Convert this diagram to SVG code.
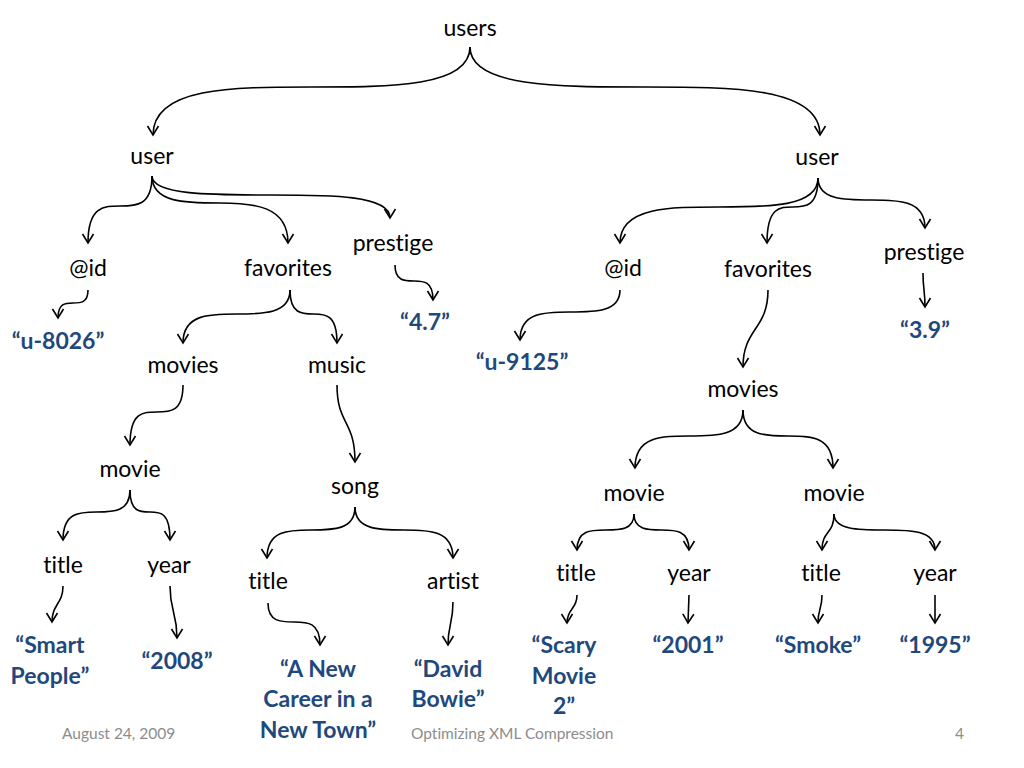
<svg xmlns="http://www.w3.org/2000/svg" width="1024" height="768" viewBox="0 0 1024 768">
<style>
text{font-variant-ligatures:none;font-feature-settings:"liga" 0}
.n{font-family:Lato,"Open Sans","Liberation Sans",sans-serif;font-size:23px;fill:#000;text-anchor:middle}
.v{font-family:Lato,"Open Sans","Liberation Sans",sans-serif;font-size:23px;font-weight:bold;fill:#1f497d;text-anchor:middle}
.f{font-family:Lato,"Open Sans","Liberation Sans",sans-serif;font-size:15.5px;fill:#8c8c8c}
.e path{fill:none;stroke:#000;stroke-width:1.6;marker-end:url(#a)}
</style>
<defs>
<marker id="a" markerUnits="userSpaceOnUse" viewBox="-10 -10 20 20" markerWidth="20" markerHeight="20" refX="0" refY="0" orient="auto" overflow="visible">
<path d="M-9,-5.5 L0,0 L-9,5.5" fill="none" stroke="#000" stroke-width="1.6"/>
</marker>
</defs>
<rect width="1024" height="768" fill="#fff"/>
<g class="e" id="connectors">
<path d="M470,47 C470,87 391,87 311.5,87 C232,87 153,87 153,135"/>
<path d="M470,47 C470,87 557.5,87 645,87 C732.5,87 820,87 820,135"/>
<path d="M152,176 C152,206 136,206 120,206 C104,206 88,206 88,243"/>
<path d="M152,176 C152,203 186,203 220,203 C254,203 288,206 288,243"/>
<path d="M152,176 C152,195 211.5,195 271,195 C330.5,195 390,195 390,218"/>
<path d="M88,290 C88,303 80.5,303 73,303 C65.5,303 58,303 58,318"/>
<path d="M395,265 C395,281 404.5,281 414,281 C423.5,281 433,281 433,300"/>
<path d="M290,290 C290,314 263,314 236.5,314 C210,314 183,314 183,343"/>
<path d="M290,290 C290,314 302,314 313.5,314 C325,314 337,314 337,343"/>
<path d="M183,385 C183,412 170,412 156.5,412 C143,412 130,412 130,445"/>
<path d="M337,385 C337,425 355,420 355,462"/>
<path d="M130,490 C130,512 113,512 96.5,512 C80,512 63,512 63,540"/>
<path d="M130,490 C130,512 140,512 150,512 C160,512 170,512 170,540"/>
<path d="M63,586 C63,604 52,604 52,622"/>
<path d="M170,586 C170,612 177,612 177,638"/>
<path d="M355,507 C355,530 333,530 311,530 C289,530 267,530 267,558"/>
<path d="M355,507 C355,530 379.5,530 404,530 C428.5,530 453,530 453,558"/>
<path d="M268,603 C268,622 281,622 294,622 C307,622 320,622 320,645"/>
<path d="M453,602 C453,624 448,624 448,645"/>
<path d="M818,178 C818,207 768.5,207 719,207 C669.5,207 620,207 620,243"/>
<path d="M818,178 C818,207 805,207 792.5,207 C780,207 767,207 767,243"/>
<path d="M818,178 C818,200 845,200 871.5,200 C898,200 925,200 925,228"/>
<path d="M620,290 C620,312 595,312 570,312 C545,312 520,312 520,340"/>
<path d="M768,290 C768,330 743,328 743,367"/>
<path d="M923,273 C923,290 925,290 925,307"/>
<path d="M743,410 C743,436 716,436 689,436 C662,436 635,436 635,468"/>
<path d="M743,410 C743,436 765.5,436 788,436 C810.5,436 833,436 833,468"/>
<path d="M634,514 C634,530 620,530 605.5,530 C591,530 577,530 577,550"/>
<path d="M634,514 C634,530 648,530 661.5,530 C675,530 689,530 689,550"/>
<path d="M834,514 C834,535 822,530 822,550"/>
<path d="M834,514 C834,530 859,530 884.5,530 C910,530 935,530 935,550"/>
<path d="M577,595 C577,610 567,608 567,623"/>
<path d="M689,595 L688,623"/>
<path d="M822,595 C822,610 818,608 818,623"/>
<path d="M935,595 L935,623"/>
</g>
<g id="users"><text class="n" x="470" y="36">users</text></g>
<g id="userL"><text class="n" x="152" y="164">user</text></g>
<g id="idL"><text class="n" x="88" y="276">@id</text></g>
<g id="favL"><text class="n" x="288" y="276">favorites</text></g>
<g id="presL"><text class="n" x="393" y="251">prestige</text></g>
<g id="u8026"><text class="v" x="58" y="349">“u-8026”</text></g>
<g id="v47"><text class="v" x="425" y="330">“4.7”</text></g>
<g id="moviesL"><text class="n" x="183" y="373">movies</text></g>
<g id="musicL"><text class="n" x="337" y="373">music</text></g>
<g id="movieL"><text class="n" x="130" y="477">movie</text></g>
<g id="songL"><text class="n" x="355" y="494">song</text></g>
<g id="titleL1"><text class="n" x="63" y="573">title</text></g>
<g id="yearL1"><text class="n" x="169" y="573">year</text></g>
<g id="titleL2"><text class="n" x="268" y="589">title</text></g>
<g id="artistL"><text class="n" x="453" y="589">artist</text></g>
<g id="smart"><text class="v" x="50" y="653">“Smart</text><text class="v" x="50" y="684">People”</text></g>
<g id="v2008"><text class="v" x="177" y="669">“2008”</text></g>
<g id="anew"><text class="v" x="318" y="677">“A New</text><text class="v" x="318" y="707">Career in a</text><text class="v" x="318" y="738">New Town”</text></g>
<g id="bowie"><text class="v" x="448" y="677">“David</text><text class="v" x="448" y="707">Bowie”</text></g>
<g id="userR"><text class="n" x="817" y="165">user</text></g>
<g id="idR"><text class="n" x="623" y="276">@id</text></g>
<g id="favR"><text class="n" x="768" y="277">favorites</text></g>
<g id="presR"><text class="n" x="924" y="260">prestige</text></g>
<g id="u9125"><text class="v" x="522" y="370">“u-9125”</text></g>
<g id="v39"><text class="v" x="925" y="338">“3.9”</text></g>
<g id="moviesR"><text class="n" x="743" y="397">movies</text></g>
<g id="movieR1"><text class="n" x="634" y="501">movie</text></g>
<g id="movieR2"><text class="n" x="834" y="501">movie</text></g>
<g id="titleR1"><text class="n" x="576" y="581">title</text></g>
<g id="yearR1"><text class="n" x="689" y="581">year</text></g>
<g id="titleR2"><text class="n" x="821" y="581">title</text></g>
<g id="yearR2"><text class="n" x="935" y="581">year</text></g>
<g id="scary"><text class="v" x="564" y="653">“Scary</text><text class="v" x="564" y="684">Movie</text><text class="v" x="564" y="714">2”</text></g>
<g id="v2001"><text class="v" x="688" y="653">“2001”</text></g>
<g id="smoke"><text class="v" x="818" y="653">“Smoke”</text></g>
<g id="v1995"><text class="v" x="935" y="653">“1995”</text></g>
<g id="footer"><text class="f" x="62" y="739">August 24, 2009</text><text class="f" x="411" y="739">Optimizing XML Compression</text><text class="f" x="955" y="739">4</text></g>
</svg>
